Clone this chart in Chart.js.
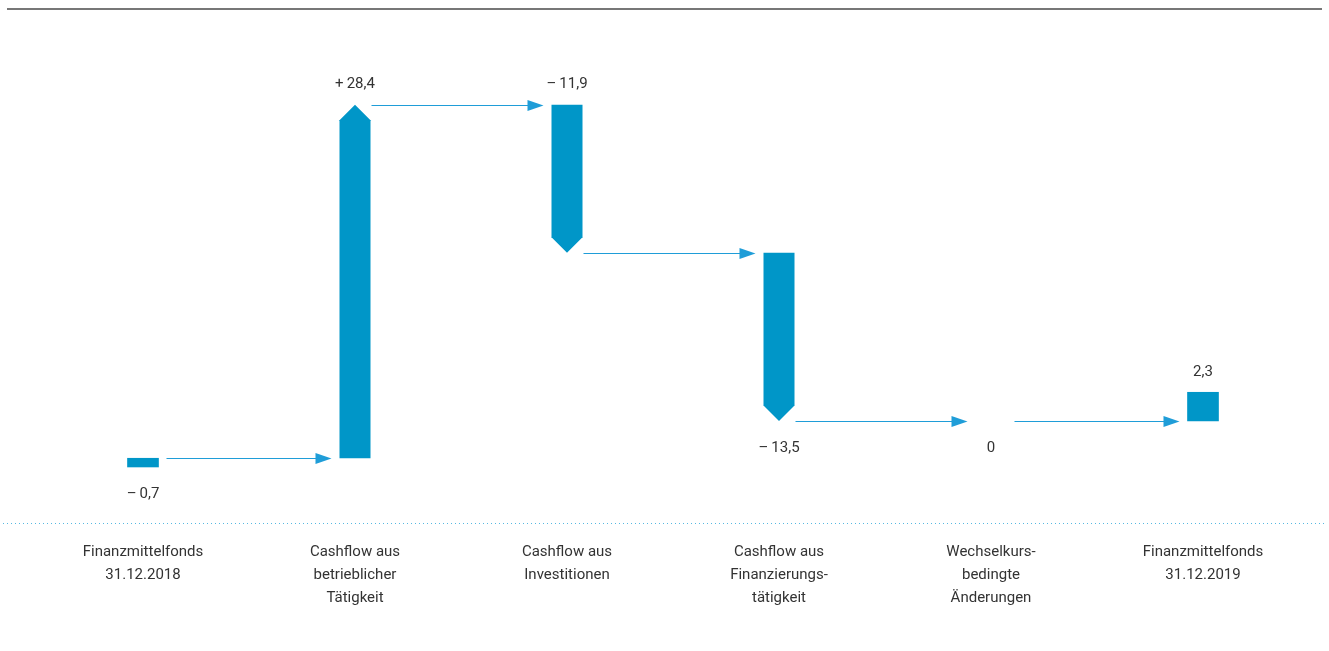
<!DOCTYPE html>
<html>
<head>
<meta charset="utf-8">
<script src="https://cdn.jsdelivr.net/npm/chart.js@4.4.1/dist/chart.umd.min.js"></script>
<style>
  html, body { margin: 0; padding: 0; background: #fff; }
  #wrap { width: 1329px; height: 651px; }
</style>
</head>
<body>
<div id="wrap"><canvas id="cashflow" width="1329" height="651"></canvas></div>
<script>
// Data (Mio. €)
const categories = [
    ['Finanzmittelfonds', '31.12.2018'],
    ['Cashflow aus', 'betrieblicher', 'Tätigkeit'],
    ['Cashflow aus', 'Investitionen'],
    ['Cashflow aus', 'Finanzierungs-', 'tätigkeit'],
    ['Wechselkurs-', 'bedingte', 'Änderungen'],
    ['Finanzmittelfonds', '31.12.2019']
];
const values = [-0.7, 28.4, -11.9, -13.5, 0, 2.3];
const kinds = ['total', 'delta', 'delta', 'delta', 'delta', 'total'];

// style
const BAR_COLOR = '#0096c8';
const ARROW_COLOR = '#1f9dd8';
const TEXT_COLOR = '#333333';
const FONT = 'Roboto, "Liberation Sans", sans-serif';
const labelAbove = [false, true, true, false, false, true];

// running level after each step
const levels = [];
values.forEach((v, i) => {
    if (kinds[i] === 'total') levels.push(v);
    else levels.push(levels[i - 1] + v);
});

// totals hang from their level in the sign direction, deltas span prev -> new level
const ranges = values.map((v, i) => {
    if (kinds[i] === 'total') return [levels[i], levels[i] + v];
    return [levels[i - 1], levels[i]];
});

function fmt(v, i) {
    const num = Math.abs(v).toFixed(1).replace('.', ',');
    if (v === 0) return '0';
    if (v < 0) return '\u2013\u2009' + num;
    return kinds[i] === 'delta' ? '+\u2009' + num : num;
}

const waterfall = {
    id: 'waterfall',
    afterDatasetsDraw(chart) {
        const ctx = chart.ctx;
        const y = chart.scales.y;
        const bars = chart.getDatasetMeta(0).data;

        ctx.save();
        // chevron bars for the deltas
        bars.forEach((el, i) => {
            if (kinds[i] !== 'delta' || values[i] === 0) return;
            const x = el.x;
            const hw = el.width / 2;
            const start = y.getPixelForValue(ranges[i][0]);
            const end = y.getPixelForValue(ranges[i][1]);
            const dir = end < start ? 1 : -1; // 1 = pointing up
            ctx.fillStyle = BAR_COLOR;
            ctx.beginPath();
            ctx.moveTo(x - hw, start);
            ctx.lineTo(x - hw, end + dir * hw);
            ctx.lineTo(x, end);
            ctx.lineTo(x + hw, end + dir * hw);
            ctx.lineTo(x + hw, start);
            ctx.closePath();
            ctx.fill();
        });

        // connecting arrows
        ctx.strokeStyle = ARROW_COLOR;
        ctx.fillStyle = ARROW_COLOR;
        ctx.lineWidth = 1.2;
        for (let i = 0; i < bars.length - 1; i++) {
            const a = bars[i];
            const b = bars[i + 1];
            const chevron = kinds[i] === 'delta' && values[i] !== 0;
            const x0 = a.x + a.width / 2 + (chevron ? 1 : 8);
            const x1 = b.x - b.width / 2 - 8;
            const py = Math.round(y.getPixelForValue(levels[i])) + 0.5;
            ctx.beginPath();
            ctx.moveTo(x0, py);
            ctx.lineTo(x1 - 12, py);
            ctx.stroke();
            ctx.beginPath();
            ctx.moveTo(x1, py);
            ctx.lineTo(x1 - 16, py - 5.5);
            ctx.lineTo(x1 - 16, py + 5.5);
            ctx.closePath();
            ctx.fill();
        }

        // value labels
        ctx.fillStyle = TEXT_COLOR;
        ctx.font = '15px ' + FONT;
        ctx.textAlign = 'center';
        ctx.textBaseline = 'middle';
        bars.forEach((el, i) => {
            const p0 = y.getPixelForValue(ranges[i][0]);
            const p1 = y.getPixelForValue(ranges[i][1]);
            const top = Math.min(p0, p1);
            const bottom = Math.max(p0, p1);
            const ty = labelAbove[i] ? top - 20 : bottom + 27;
            ctx.fillText(fmt(values[i], i), el.x, ty);
        });

        // frame lines
        ctx.strokeStyle = '#4a4a4a';
        ctx.lineWidth = 1.6;
        ctx.beginPath();
        ctx.moveTo(7, 9);
        ctx.lineTo(1322, 9);
        ctx.stroke();

        ctx.strokeStyle = '#56b9e2';
        ctx.lineWidth = 1;
        ctx.setLineDash([1, 3]);
        const by = Math.round(chart.chartArea.bottom) + 0.5;
        ctx.beginPath();
        ctx.moveTo(3, by);
        ctx.lineTo(1326, by);
        ctx.stroke();
        ctx.restore();
    }
};

new Chart(document.getElementById('cashflow'), {
    type: 'bar',
    data: {
        labels: categories,
        datasets: [{
            data: ranges,
            backgroundColor: kinds.map(k => k === 'total' ? BAR_COLOR : 'rgba(0,0,0,0)'),
            borderWidth: 0,
            barThickness: 31,
            borderSkipped: false
        }]
    },
    options: {
        responsive: false,
        devicePixelRatio: 1,
        animation: false,
        layout: { padding: { left: 37, right: 20, top: 30, bottom: 0 } },
        scales: {
            x: {
                grid: { display: false },
                border: { display: false },
                ticks: {
                    color: TEXT_COLOR,
                    font: { family: FONT, size: 15, lineHeight: '23px' },
                    padding: 10,
                    maxRotation: 0,
                    autoSkip: false
                },
                afterFit(scale) { scale.height = 128; }
            },
            y: {
                display: false,
                min: -5.9,
                max: 33.7
            }
        },
        plugins: {
            legend: { display: false },
            tooltip: { enabled: false }
        }
    },
    plugins: [waterfall]
});
</script>
</body>
</html>
